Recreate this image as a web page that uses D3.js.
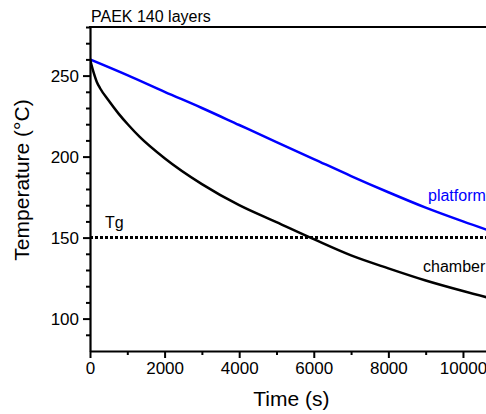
<!DOCTYPE html>
<html><head><meta charset="utf-8">
<script src="https://cdn.jsdelivr.net/npm/d3@7"></script>
<style>
body{margin:0;background:#fff;overflow:hidden}
svg{display:block;font-family:"Liberation Sans",Arial,sans-serif}
</style></head>
<body><svg id="c" width="486" height="414"></svg>
<script>
const title = "PAEK 140 layers";
const xTicks = [0, 2000, 4000, 6000, 8000, 10000];
const yTicks = [100, 150, 200, 250];
const platformTime = [0, 1000, 2000, 3000, 4000, 5000, 6000, 7000, 8000, 9000, 10000, 11000];
const platformTemp = [260, 250.3, 240, 230, 219.5, 209, 198.5, 188, 178, 168.5, 160, 152];
const chamberTime = [0, 90, 180, 270, 490, 760, 1030, 1340, 2000, 3000, 4000, 5000, 6000, 7000, 8000, 9000, 10000, 11000];
const chamberTemp = [260, 252.4, 246.2, 242.2, 234.9, 226.7, 219.5, 212, 199, 183, 170, 159.5, 149, 139, 131, 123.5, 117, 111];
const tg = 150;

const svg = d3.select("#c");
const L = 90, R = 492.8, T = 27, B = 351;
const x = d3.scaleLinear().domain([0, 10800]).range([L, R]);
const y = d3.scaleLinear().domain([80, 280]).range([B, T]);

svg.append("defs").append("clipPath").attr("id","clip")
  .append("rect").attr("x",L).attr("y",T).attr("width",R-L).attr("height",B-T);

const g = svg.append("g").attr("clip-path","url(#clip)");
// Tg line
g.append("line").attr("x1",L).attr("x2",R).attr("y1",y(tg)).attr("y2",y(tg))
  .attr("stroke","#000").attr("stroke-width",3).attr("stroke-dasharray","3,2");

const line = d3.line().curve(d3.curveMonotoneX);
g.append("path").attr("d", line(platformTime.map((t,i)=>[x(t), y(platformTemp[i])])))
  .attr("fill","none").attr("stroke","#0000ff").attr("stroke-width",2.5);
g.append("path").attr("d", line(chamberTime.map((t,i)=>[x(t), y(chamberTemp[i])])))
  .attr("fill","none").attr("stroke","#000").attr("stroke-width",2.5);

// minor ticks
const minorX = d3.range(1000, 11000, 2000);
const minorY = d3.range(90, 281, 10).filter(v => v % 50 !== 0);
svg.append("g").attr("transform",`translate(0,${B})`)
  .call(d3.axisBottom(x).tickValues(minorX).tickSize(4).tickFormat("").tickSizeOuter(0))
  .call(a=>a.select(".domain").remove())
  .call(a=>a.selectAll("line").attr("stroke-width",2));
svg.append("g").attr("transform",`translate(${L},0)`)
  .call(d3.axisLeft(y).tickValues(minorY).tickSize(4).tickFormat("").tickSizeOuter(0))
  .call(a=>a.select(".domain").remove())
  .call(a=>a.selectAll("line").attr("stroke-width",2));

// major axes
const xa = svg.append("g").attr("transform",`translate(0,${B})`)
  .call(d3.axisBottom(x).tickValues(xTicks).tickSize(7).tickPadding(4).tickSizeOuter(0).tickFormat(d3.format("d")));
const ya = svg.append("g").attr("transform",`translate(${L},0)`)
  .call(d3.axisLeft(y).tickValues(yTicks).tickSize(7).tickPadding(4).tickSizeOuter(0).tickFormat(d3.format("d")));
[xa, ya].forEach(a=>{
  a.selectAll("line").attr("stroke-width",2);
  a.select(".domain").attr("stroke-width",2.2);
  a.selectAll("text").attr("font-size",17).attr("fill","#000").attr("font-family","Liberation Sans, Arial, sans-serif");
});
// top border
svg.append("line").attr("x1",L-1).attr("x2",R).attr("y1",T).attr("y2",T)
  .attr("stroke","#000").attr("stroke-width",2.2);

// labels
svg.append("text").attr("x",L+1).attr("y",22).attr("font-size",16).text(title);
svg.append("text").attr("x",105).attr("y",228).attr("font-size",16).text("Tg");
svg.append("text").attr("x",428).attr("y",201).attr("font-size",16).attr("fill","#0000ff").text("platform");
svg.append("text").attr("x",423).attr("y",272).attr("font-size",16).attr("fill","#000").text("chamber");

svg.append("text").attr("x",(L+R)/2).attr("y",406).attr("text-anchor","middle").attr("font-size",21).text("Time (s)");
svg.append("text").attr("transform","translate(29,180) rotate(-90)").attr("text-anchor","middle").attr("font-size",21).text("Temperature (°C)");
</script></body></html>
